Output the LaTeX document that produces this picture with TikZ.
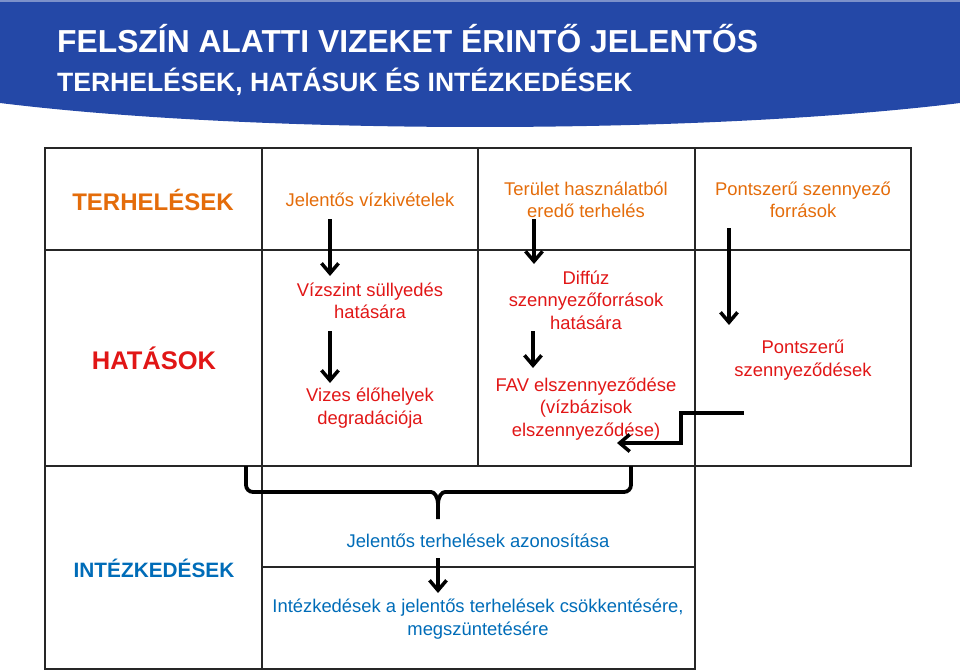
\documentclass[tikz,border=0pt]{standalone}
\usepackage{fontspec}
\setmainfont{Liberation Sans}
\usepackage{xcolor}
\usetikzlibrary{arrows.meta}
\definecolor{bannerblue}{RGB}{36,72,167}
\definecolor{terhcol}{RGB}{228,108,10}
\definecolor{hatcol}{RGB}{225,22,22}
\definecolor{intcol}{RGB}{0,108,184}
\tikzset
  {cell/.style={align=center,inner sep=0pt,font=\fontsize{18.4}{22.5}\selectfont},
   head/.style={inner sep=0pt,font=\fontsize{#1}{28}\selectfont\bfseries},head/.default={24.5},
   grid/.style={line width=1.3pt,draw=black!85},
   flow/.style={line width=3.5pt,-{Straight Barb[length=10pt,width=17pt]}},
   bracket/.style={line width=3.8pt,line join=round}}
\newcommand{\cim}[2]{
                    \fontsize{#1}{#1}\selectfont\bfseries #2
                   }

\begin{document}
\begin{tikzpicture}[x=1pt,y=-1pt]
 \useasboundingbox (0,0) rectangle (960,671);

 % banner
 \fill[bannerblue] (0,0) -- (960,0) -- (960,103)
     .. controls (700,135) and (260,135) .. (0,103) -- cycle;
 \fill[bannerblue!60!white] (0,0) rectangle (960,2);
 \draw (57,53) node[anchor=base west,inner sep=0pt,white] (cim1)
              {\cim{31.8}{FELSZÍN ALATTI VIZEKET ÉRINTŐ JELENTŐS}};
 \draw (57,92) node[anchor=base west,inner sep=0pt,white] (cim2)
              {\cim{26.5}{TERHELÉSEK, HATÁSUK ÉS INTÉZKEDÉSEK}};

 % table
 \draw[grid] (45,148) rectangle (911,466);
 \draw[grid] (45,250) -- (911,250);
 \draw[grid] (262,148) -- (262,669);
 \draw[grid] (478,148) -- (478,466);
 \draw[grid] (695,148) -- (695,669);
 \draw[grid] (45,466) rectangle (695,669);
 \draw[grid] (262,567) -- (695,567);

 % row heads
 \draw (153,200) node[head=24,terhcol] (T0) {TERHELÉSEK};
 \draw (154,358) node[head=25.5,hatcol] (H0) {HATÁSOK};
 \draw (154,568) node[head=20.8,intcol] (I0) {INTÉZKEDÉSEK};

 % terhelések
 \draw (370,200) node[cell,terhcol] (T1) {Jelentős vízkivételek};
 \draw (586,200) node[cell,terhcol] (T2) {Terület használatból\\eredő terhelés};
 \draw (803,200) node[cell,terhcol] (T3) {Pontszerű szennyező\\források};

 % hatások
 \draw (370,301) node[cell,hatcol] (H1) {Vízszint süllyedés\\hatására};
 \draw (370,408) node[cell,hatcol] (H2) {Vizes élőhelyek\\degradációja};
 \draw (586,300) node[cell,hatcol] (H3) {Diffúz\\szennyezőforrások\\hatására};
 \draw (586,409) node[cell,hatcol] (H4) {FAV elszennyeződése\\(vízbázisok\\elszennyeződése)};
 \draw (803,360) node[cell,hatcol] (H5) {Pontszerű\\szennyeződések};

 % intézkedések
 \draw (478,541) node[cell,intcol] (I1) {Jelentős terhelések azonosítása};
 \draw (478,619) node[cell,intcol] (I2) {Intézkedések a jelentős terhelések csökkentésére,\\megszüntetésére};

 % arrow ends
 \coordinate (a1) at (330,219);  \coordinate (b1) at (330,276);
 \coordinate (a2) at (330,331);  \coordinate (b2) at (330,383);
 \coordinate (a3) at (534,219);  \coordinate (b3) at (534,264);
 \coordinate (a4) at (533,331);  \coordinate (b4) at (533,368);
 \coordinate (a5) at (729,228);  \coordinate (b5) at (729,325);
 \coordinate (a6) at (744,413);  \coordinate (k6) at (681,443);  \coordinate (b6) at (617,443);
 \coordinate (a7) at (438,558);  \coordinate (b7) at (438,593);

 \draw[flow] (a1) -- (b1);
 \draw[flow] (a2) -- (b2);
 \draw[flow] (a3) -- (b3);
 \draw[flow] (a4) -- (b4);
 \draw[flow] (a5) -- (b5);
 \draw[flow,line join=miter] (a6) -| (k6) -- (b6);
 \draw[flow] (a7) -- (b7);

 % brace
 \draw[bracket] (246,466) [rounded corners=7pt] -- (246,492) -- (424,492) [sharp corners]
     .. controls (434,492) and (438,496) .. (438,505) -- (438,519);
 \draw[bracket] (631,466) [rounded corners=7pt] -- (631,492) -- (452,492) [sharp corners]
     .. controls (442,492) and (438,496) .. (438,505);
\end{tikzpicture}
\end{document}
